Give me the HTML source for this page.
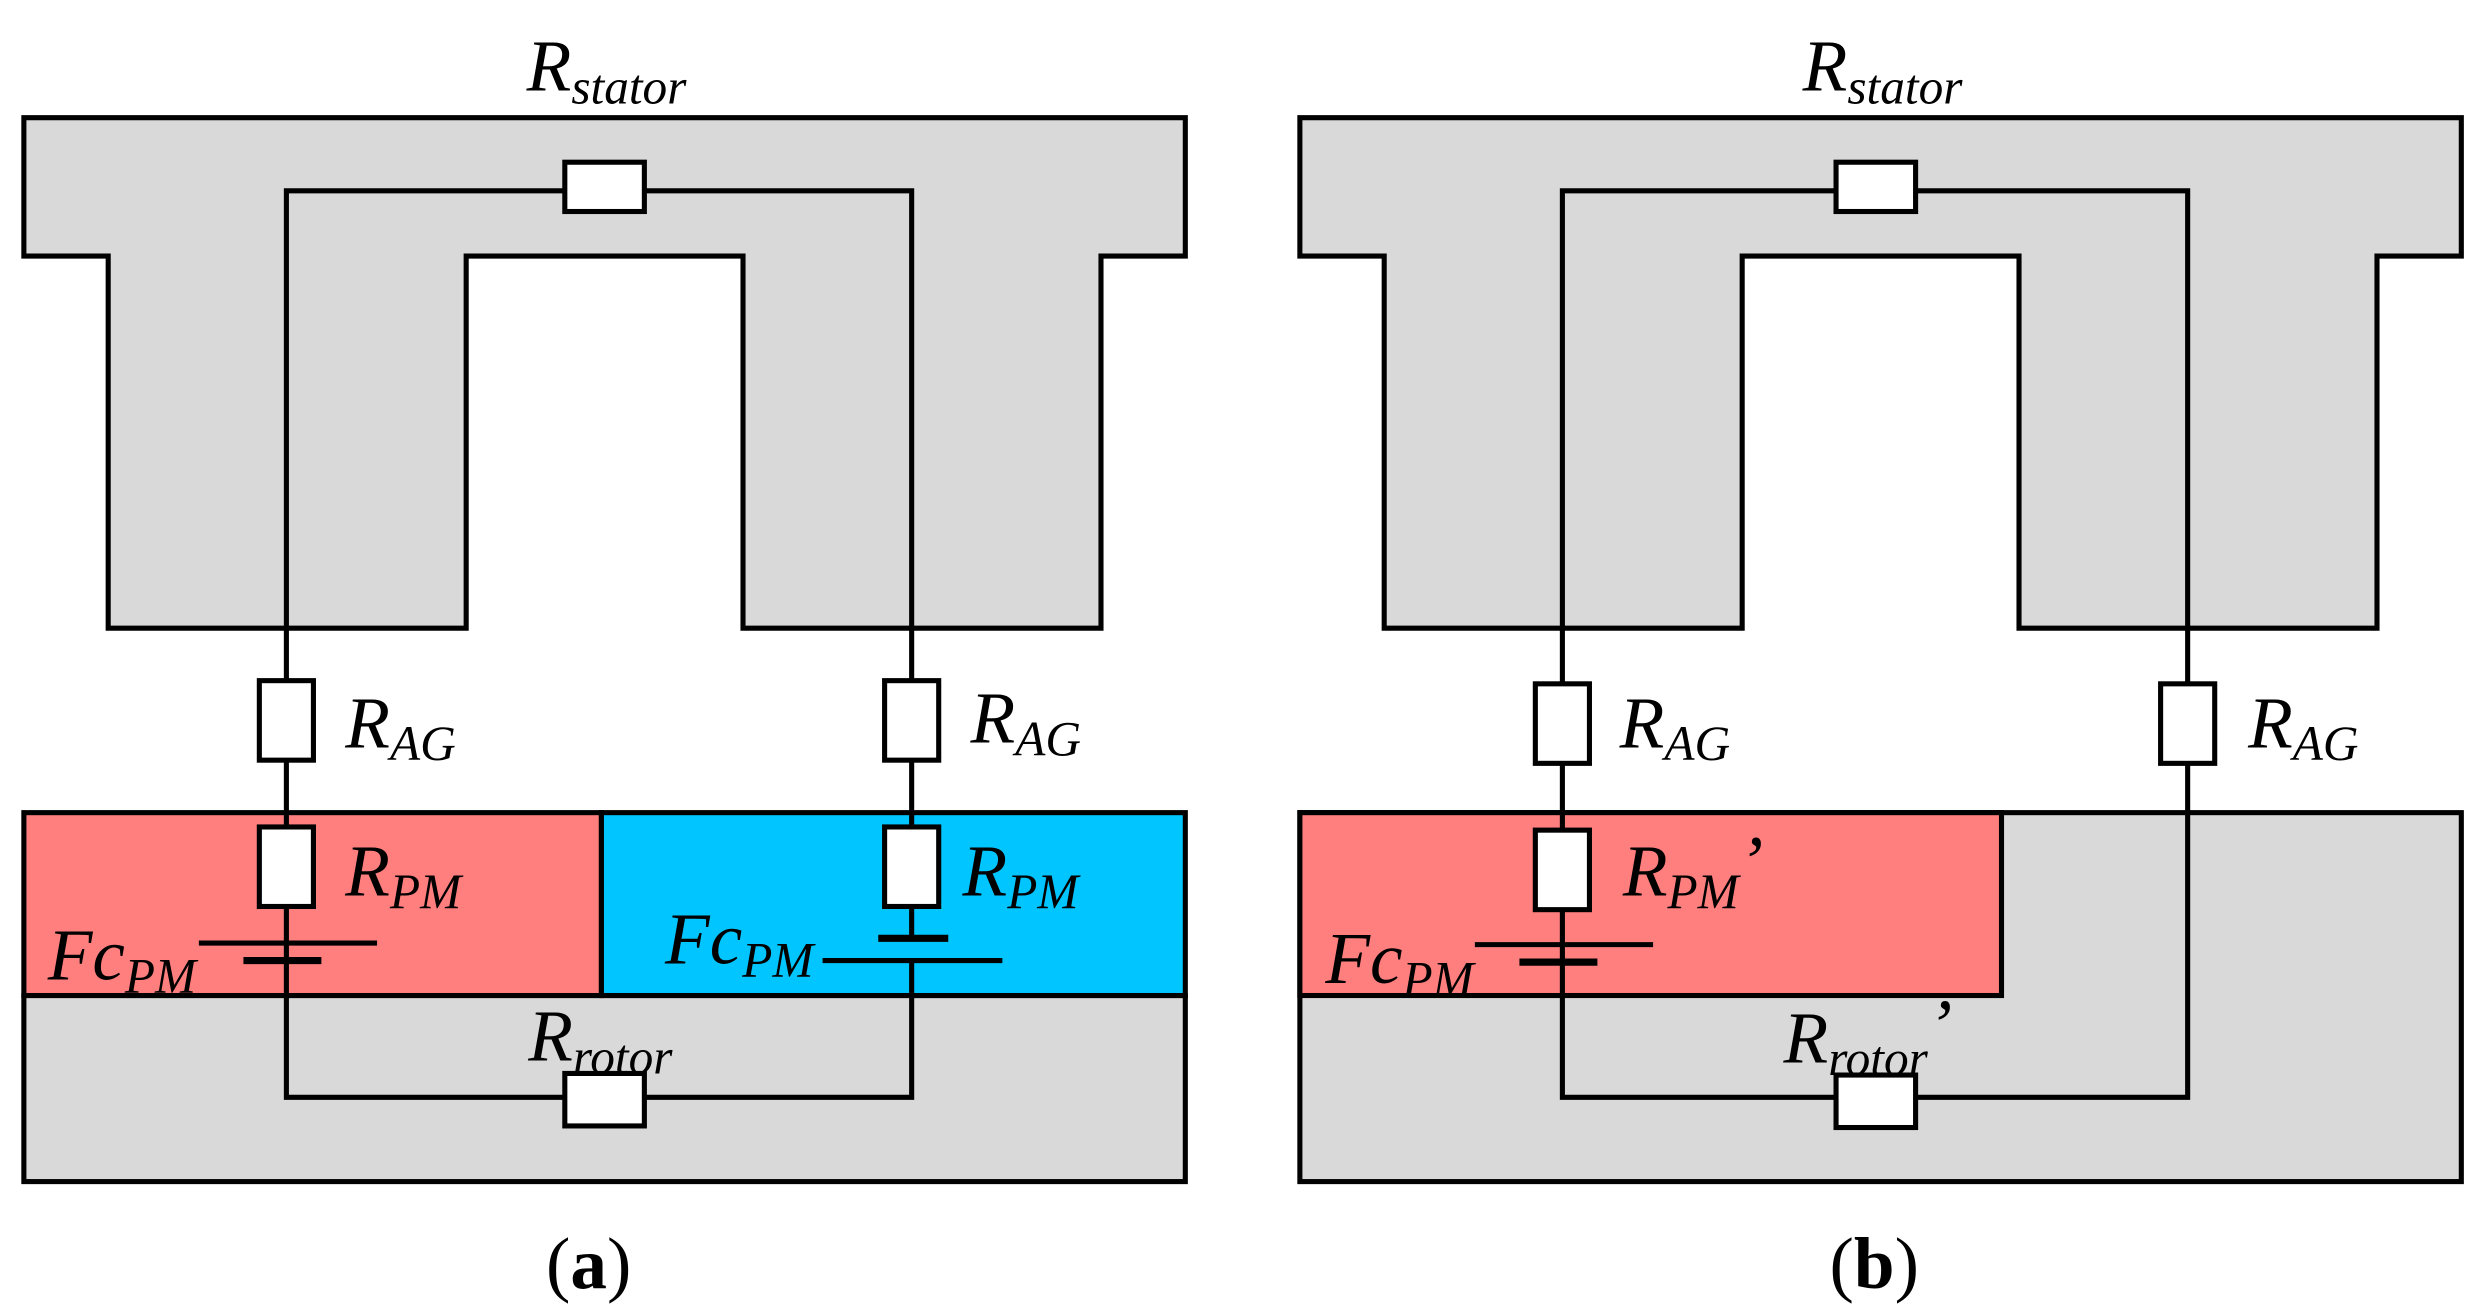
<!DOCTYPE html>
<html><head><meta charset="utf-8"><style>
html,body{margin:0;padding:0;background:#fff;}
svg{display:block;}
text{font-family:"Liberation Serif",serif;font-style:italic;fill:#000;}
</style></head><body>
<svg width="2482" height="1312" viewBox="0 0 1560 825" preserveAspectRatio="none" xmlns="http://www.w3.org/2000/svg">
<g stroke="#000" stroke-width="3.2" stroke-linejoin="miter">
<!-- Panel a -->
<path d="M15,74 H745 V161 H692 V395 H467 V161 H293 V395 H68 V161 H15 Z" fill="#d9d9d9"/>
<rect x="15" y="626" width="730" height="117" fill="#d9d9d9"/>
<rect x="15" y="511" width="363" height="115" fill="#ff7f7f"/>
<rect x="378" y="511" width="367" height="115" fill="#00c5ff"/>
<g fill="none">
<path d="M180,395 V120 H573 V395"/>
<path d="M180,395 V611 M180,604 V690 H573 V604 M573,395 V590"/>
</g>
<g fill="#fff">
<rect x="355" y="102" width="50" height="31"/>
<rect x="163" y="428" width="34" height="50"/>
<rect x="556" y="428" width="34" height="50"/>
<rect x="163" y="520" width="34" height="50"/>
<rect x="556" y="520" width="34" height="50"/>
<rect x="355" y="675" width="50" height="33"/>
</g>
<line x1="125" y1="593" x2="237" y2="593"/>
<line x1="153" y1="604" x2="202" y2="604" stroke-width="4.5"/>
<line x1="552" y1="590" x2="596" y2="590" stroke-width="4.5"/>
<line x1="517" y1="604" x2="630" y2="604"/>
<!-- Panel b -->
<path d="M817,74 H1547 V161 H1494 V395 H1269 V161 H1095 V395 H870 V161 H817 Z" fill="#d9d9d9"/>
<rect x="817" y="511" width="730" height="232" fill="#d9d9d9"/>
<rect x="817" y="511" width="441" height="115" fill="#ff7f7f"/>
<g fill="none">
<path d="M982,395 V120 H1375 V395"/>
<path d="M982,395 V611 M982,604 V690 H1375 V395"/>
</g>
<g fill="#fff">
<rect x="1154" y="102" width="50" height="31"/>
<rect x="965" y="430" width="34" height="50"/>
<rect x="1358" y="430" width="34" height="50"/>
<rect x="965" y="522" width="34" height="50"/>
<rect x="1154" y="676" width="50" height="33"/>
</g>
<line x1="927" y1="594" x2="1039" y2="594"/>
<line x1="955" y1="605" x2="1004" y2="605" stroke-width="4.5"/>
</g>
<g font-size="46">
<text x="331" y="57">R<tspan font-size="31" dy="8">stator</tspan></text>
<text x="217" y="470">R<tspan font-size="31" dy="8">AG</tspan></text>
<text x="610" y="467">R<tspan font-size="31" dy="8">AG</tspan></text>
<text x="217" y="563">R<tspan font-size="31" dy="8">PM</tspan></text>
<text x="605" y="563">R<tspan font-size="31" dy="8">PM</tspan></text>
<text x="30" y="616">Fc<tspan font-size="31" dy="8">PM</tspan></text>
<text x="418" y="606">Fc<tspan font-size="31" dy="8">PM</tspan></text>
<text x="332" y="667">R<tspan font-size="31" dy="8">rotor</tspan></text>

<text x="1133" y="57">R<tspan font-size="31" dy="8">stator</tspan></text>
<text x="1018" y="470">R<tspan font-size="31" dy="8">AG</tspan></text>
<text x="1413" y="470">R<tspan font-size="31" dy="8">AG</tspan></text>
<text x="1020" y="563">R<tspan font-size="31" dy="8">PM</tspan><tspan dy="-14">’</tspan></text>
<text x="833" y="618">Fc<tspan font-size="31" dy="8">PM</tspan></text>
<text x="1121" y="668">R<tspan font-size="31" dy="8">rotor</tspan><tspan dy="-16">’</tspan></text>
</g>
<g font-size="46">
<text x="370" y="810" text-anchor="middle" style="font-style:normal">(<tspan font-weight="bold">a</tspan>)</text>
<text x="1178" y="810" text-anchor="middle" style="font-style:normal">(<tspan font-weight="bold">b</tspan>)</text>
</g>
</svg>
</body></html>
